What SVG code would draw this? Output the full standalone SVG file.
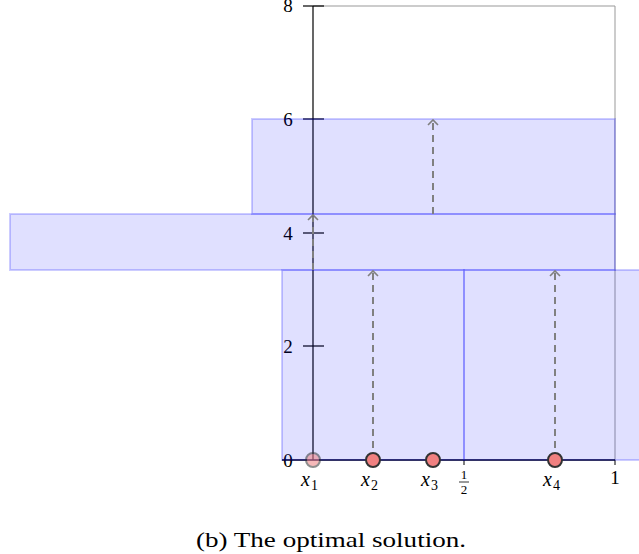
<svg xmlns="http://www.w3.org/2000/svg" width="639" height="554" viewBox="0 0 639 554">
<style>
.lbl{font-family:"Liberation Serif","DejaVu Serif",serif;font-size:19px;fill:#000}
.var{font-family:"Liberation Serif","DejaVu Serif",serif;font-size:20px;font-style:italic;fill:#000}
.sub{font-family:"Liberation Serif","DejaVu Serif",serif;font-size:14px;fill:#000}
.frac{font-family:"Liberation Serif","DejaVu Serif",serif;font-size:13px;fill:#000}
.rect{fill:#0000ff;fill-opacity:0.12;stroke:#0000ff;stroke-opacity:0.2;stroke-width:2}
.dash{stroke:#808080;stroke-width:2;stroke-dasharray:7,5;fill:none}
.head{stroke:#808080;stroke-width:1.6;fill:none}
.dot{fill:#f08080;stroke:#333;stroke-width:2}
</style>
<g id="axes">
<line x1="313" y1="6" x2="615" y2="6" stroke="#999" stroke-width="1"/>
<line x1="615" y1="6" x2="615" y2="460" stroke="#999" stroke-width="1"/>
<line x1="313" y1="6" x2="313" y2="460" stroke="#000" stroke-width="1.2"/>
<line x1="303" y1="6" x2="324" y2="6" stroke="#000" stroke-width="1.2"/>
<line x1="303" y1="119" x2="324" y2="119" stroke="#000" stroke-width="1.2"/>
<line x1="303" y1="233" x2="324" y2="233" stroke="#000" stroke-width="1.2"/>
<line x1="303" y1="346" x2="324" y2="346" stroke="#000" stroke-width="1.2"/>
<text class="lbl" x="288" y="12" text-anchor="middle">8</text>
<text class="lbl" x="288" y="126" text-anchor="middle">6</text>
<text class="lbl" x="288" y="240" text-anchor="middle">4</text>
<text class="lbl" x="288" y="353" text-anchor="middle">2</text>
<text class="lbl" x="288" y="467" text-anchor="middle">0</text>
<line x1="282" y1="460" x2="615" y2="460" stroke="#000" stroke-width="1.5"/>
<line x1="464" y1="460" x2="464" y2="465" stroke="#000" stroke-width="1"/>
<line x1="615" y1="460" x2="615" y2="465" stroke="#000" stroke-width="1"/>
</g>
<g id="rectA"><rect class="rect" x="252" y="119" width="363" height="95"/></g>
<g id="rectB"><rect class="rect" x="10" y="214" width="605" height="56"/></g>
<g id="rectC"><rect class="rect" x="282" y="270" width="182" height="190"/></g>
<g id="rectD"><rect class="rect" x="464" y="270" width="190" height="190"/></g>
<g id="connectors">
<line class="dash" x1="373" y1="460" x2="373" y2="273"/>
<polyline class="head" points="368,276 373,271 378,276"/>
<line class="dash" x1="555" y1="460" x2="555" y2="273"/>
<polyline class="head" points="550,276 555,271 560,276"/>
<line class="dash" x1="433" y1="214" x2="433" y2="122"/>
<polyline class="head" points="428,125 433,120 438,125"/>
<line class="dash" x1="313" y1="270" x2="313" y2="217"/>
<polyline class="head" points="308,220 313,215 318,220"/>
</g>
<g id="x1"><circle class="dot" cx="313" cy="460" r="7" opacity="0.55"/><text class="var" x="301" y="486">x</text><text class="sub" x="311" y="490">1</text></g>
<g id="x2"><circle class="dot" cx="373" cy="460" r="7"/><text class="var" x="361" y="486">x</text><text class="sub" x="371" y="490">2</text></g>
<g id="x3"><circle class="dot" cx="433" cy="460" r="7"/><text class="var" x="421" y="486">x</text><text class="sub" x="431" y="490">3</text></g>
<g id="x4"><circle class="dot" cx="555" cy="460" r="7"/><text class="var" x="543" y="486">x</text><text class="sub" x="553" y="490">4</text></g>
<g id="half"><text class="frac" x="464" y="479" text-anchor="middle">1</text><line x1="459" y1="482" x2="469" y2="482" stroke="#000" stroke-width="0.8"/><text class="frac" x="464" y="494" text-anchor="middle">2</text></g>
<g id="one"><text class="lbl" x="615" y="484" text-anchor="middle">1</text></g>
<text class="lbl" x="331" y="547" text-anchor="middle" style="font-size:21px" textLength="270" lengthAdjust="spacingAndGlyphs">(b) The optimal solution.</text>
</svg>
